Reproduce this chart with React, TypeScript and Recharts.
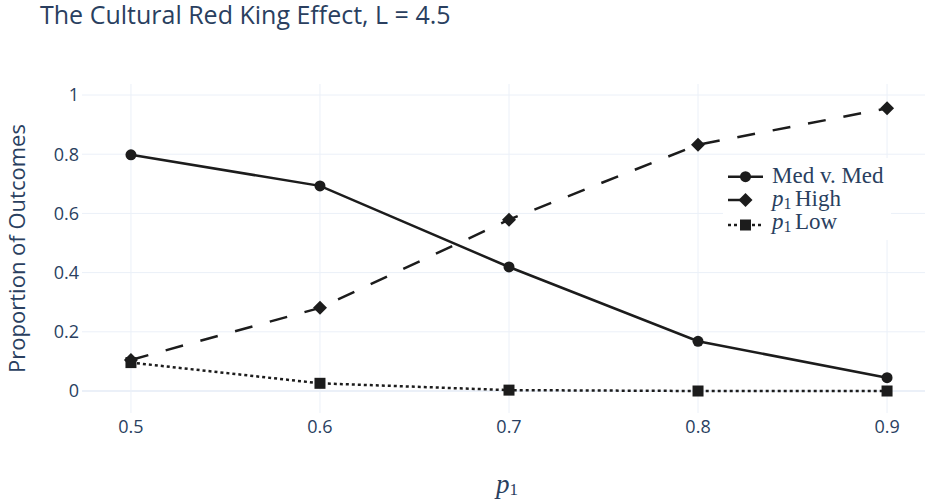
import React from 'react';
import { LineChart, Line, XAxis, YAxis, ReferenceLine, Legend } from 'recharts';

const pValues = [0.5, 0.6, 0.7, 0.8, 0.9];
const medVsMed = [0.798, 0.693, 0.419, 0.168, 0.045];
const p1High = [0.105, 0.281, 0.579, 0.832, 0.955];
const p1Low = [0.096, 0.026, 0.003, 0.0, 0.0];
const xTicks = [0.5, 0.6, 0.7, 0.8, 0.9];
const yTicks = [0, 0.2, 0.4, 0.6, 0.8, 1];
const titleText = 'The Cultural Red King Effect, L = 4.5';
const yTitle = 'Proportion of Outcomes';

const data = pValues.map((p, i) => ({ p, med: medVsMed[i], high: p1High[i], low: p1Low[i] }));

const INK = '#1c1c1c';
const TEXT = '#2a3f5f';
const GRID = '#ebf0f8';
const SANS = '"Open Sans", sans-serif';
const SERIF = '"Liberation Serif", serif';
const HIGH_DASH = '18 18';
const LOW_DASH = '3 3';

const CircleDot = (props: any) => {
  const { cx, cy, index } = props;
  if (cx == null || cy == null) return <g key={'c' + index} />;
  return <circle key={'c' + index} cx={cx} cy={cy} r={5.5} fill={INK} />;
};
const DiamondDot = (props: any) => {
  const { cx, cy, index } = props;
  if (cx == null || cy == null) return <g key={'d' + index} />;
  const s = 7;
  return (
    <polygon
      key={'d' + index}
      points={`${cx},${cy - s} ${cx + s},${cy} ${cx},${cy + s} ${cx - s},${cy}`}
      fill={INK}
    />
  );
};
const SquareDot = (props: any) => {
  const { cx, cy, index } = props;
  if (cx == null || cy == null) return <g key={'s' + index} />;
  const h = 5.5;
  return <rect key={'s' + index} x={cx - h} y={cy - h} width={2 * h} height={2 * h} fill={INK} />;
};

const renderLegend = () => {
  const rows = [
    { y: 18.7, dash: undefined, shape: 'circle' },
    { y: 42, dash: HIGH_DASH, shape: 'diamond' },
    { y: 67, dash: LOW_DASH, shape: 'square' },
  ];
  const mx = 22.5;
  return (
    <div style={{ background: '#fff', width: 168, height: 82 }}>
      <svg width={168} height={82}>
        {rows.map((r, i) => (
          <g key={i}>
            <line x1={5} x2={40} y1={r.y} y2={r.y} stroke={INK} strokeWidth={2.5} strokeDasharray={r.dash} />
            {r.shape === 'circle' && <circle cx={mx} cy={r.y} r={5.5} fill={INK} />}
            {r.shape === 'diamond' && (
              <polygon points={`${mx},${r.y - 7} ${mx + 7},${r.y} ${mx},${r.y + 7} ${mx - 7},${r.y}`} fill={INK} />
            )}
            {r.shape === 'square' && <rect x={mx - 5.5} y={r.y - 5.5} width={11} height={11} fill={INK} />}
          </g>
        ))}
        <text x={49} y={24.5} fill={TEXT} fontFamily={SERIF} fontSize={23}>Med v. Med</text>
        <text y={47.5} fill={TEXT} fontFamily={SERIF} fontSize={23}>
          <tspan x={49} fontStyle="italic">p</tspan>
          <tspan x={60.5} dy={3} fontSize={16}>1</tspan>
          <tspan x={72} dy={-3}>High</tspan>
        </text>
        <text y={71} fill={TEXT} fontFamily={SERIF} fontSize={23}>
          <tspan x={49} fontStyle="italic">p</tspan>
          <tspan x={60.5} dy={3} fontSize={16}>1</tspan>
          <tspan x={72} dy={-3}>Low</tspan>
        </text>
      </svg>
    </div>
  );
};

const XTitle = (props: any) => {
  const vb = props.viewBox || { x: 82, y: 413, width: 854, height: 90 };
  const cx = vb.x + vb.width / 2 - 2;
  const y = vb.y + 80;
  return (
    <text x={cx} y={y} textAnchor="middle" fill={TEXT} fontFamily={SERIF} fontSize={27}>
      <tspan fontStyle="italic">p</tspan>
      <tspan dy={2} fontSize={17}>1</tspan>
    </text>
  );
};

const YTitle = (props: any) => {
  const vb = props.viewBox || { x: 22, y: 84, width: 60, height: 329 };
  const x = vb.x + 3;
  const cy = vb.y + vb.height / 2;
  return (
    <text transform={`translate(${x}, ${cy}) rotate(-90)`} textAnchor="middle" fill={TEXT} fontFamily={SANS} fontSize={22}>
      {yTitle}
    </text>
  );
};

export default function App() {
  return (
    <div style={{ position: 'absolute', left: 0, top: 0, width: 925, height: 503, overflow: 'hidden', background: '#fff' }}>
      <svg width={925} height={70} style={{ position: 'absolute', left: 0, top: 0, zIndex: 2 }}>
        <text x={40} y={24} fill={TEXT} fontFamily={SANS} fontSize={25}>{titleText}</text>
      </svg>
      <LineChart width={940} height={503} data={data} margin={{ top: 84, right: 4, left: 22, bottom: 0 }}>
        {xTicks.map((t) => (
          <ReferenceLine key={'gx' + t} x={t} stroke={GRID} strokeWidth={1} />
        ))}
        {yTicks.map((t) => (
          <ReferenceLine key={'gy' + t} y={t} stroke={GRID} strokeWidth={t === 0 ? 2 : 1} />
        ))}
        <XAxis
          dataKey="p"
          type="number"
          domain={[0.4741, 0.9259]}
          allowDataOverflow
          ticks={xTicks}
          tickFormatter={(v: number) => String(v)}
          axisLine={false}
          tickLine={false}
          tickSize={0}
          tickMargin={7}
          height={90}
          tick={{ fill: TEXT, fontFamily: SANS, fontSize: 18 }}
          label={{ content: XTitle } as any}
        />
        <YAxis
          type="number"
          domain={[-0.0743, 1.0372]}
          allowDataOverflow
          ticks={yTicks}
          tickFormatter={(v: number) => String(v)}
          axisLine={false}
          tickLine={false}
          tickSize={0}
          tickMargin={3}
          width={60}
          tick={{ fill: TEXT, fontFamily: SANS, fontSize: 18 }}
          label={{ content: YTitle } as any}
        />
        <Line dataKey="med" name="Med v. Med" stroke={INK} strokeWidth={2.5} dot={CircleDot} activeDot={false} isAnimationActive={false} />
        <Line dataKey="high" name="p1 High" stroke={INK} strokeWidth={2.5} strokeDasharray={HIGH_DASH} dot={DiamondDot} activeDot={false} isAnimationActive={false} />
        <Line dataKey="low" name="p1 Low" stroke={INK} strokeWidth={2.5} strokeDasharray={LOW_DASH} dot={SquareDot} activeDot={false} isAnimationActive={false} />
        <Legend
          layout="vertical"
          align="center"
          verticalAlign="middle"
          wrapperStyle={{ position: 'absolute', left: 723, top: 158, width: 168, height: 82 }}
          content={renderLegend}
        />
      </LineChart>
    </div>
  );
}
